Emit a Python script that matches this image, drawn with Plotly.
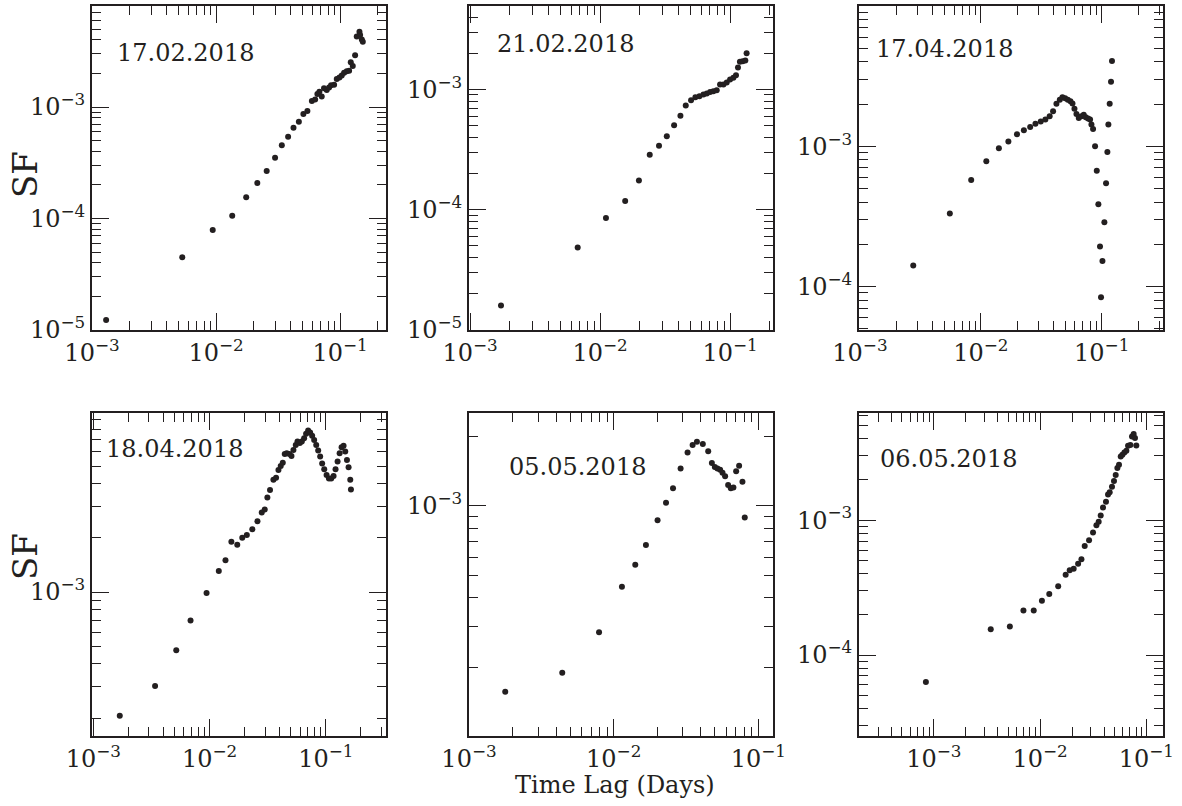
import plotly.graph_objects as go
import math

INK = "#231f20"

# ---------------- data (time lag in days, SF) ----------------
labels = ["17.02.2018", "21.02.2018", "17.04.2018", "18.04.2018", "05.05.2018", "06.05.2018"]

x1 = [1.30e-3, 5.34e-3, 9.4e-3, 1.35e-2, 1.75e-2, 2.15e-2, 2.56e-2, 2.99e-2, 3.39e-2, 3.81e-2,
      4.21e-2, 4.65e-2, 5.06e-2, 5.45e-2, 0.0592, 0.0629, 0.0656, 0.0681, 0.0711, 0.0742,
      0.0780, 0.0815, 0.0846, 0.0895, 0.0940, 0.0988, 0.1031, 0.1077, 0.1132, 0.1182,
      0.1219, 0.1265, 0.1321, 0.1362, 0.1432, 0.1450, 0.1496, 0.1524]
y1 = [1.23e-5, 4.49e-5, 7.9e-5, 1.06e-4, 1.55e-4, 2.08e-4, 2.67e-4, 3.51e-4, 4.53e-4, 5.42e-4,
      6.52e-4, 7.38e-4, 8.65e-4, 9.2e-4, 1.13e-3, 1.17e-3, 1.31e-3, 1.37e-3, 1.24e-3, 1.47e-3,
      1.42e-3, 1.50e-3, 1.57e-3, 1.58e-3, 1.78e-3, 1.84e-3, 1.92e-3, 2.03e-3, 2.09e-3, 2.12e-3,
      2.52e-3, 2.33e-3, 2.92e-3, 4.28e-3, 4.74e-3, 4.43e-3, 4.04e-3, 3.85e-3]

x2 = [1.73e-3, 6.73e-3, 1.11e-2, 1.56e-2, 1.99e-2, 2.41e-2, 2.84e-2, 3.26e-2, 3.71e-2, 4.15e-2,
      4.56e-2, 5.01e-2, 5.41e-2, 5.81e-2, 6.24e-2, 6.62e-2, 7.02e-2, 7.44e-2, 7.89e-2, 8.37e-2,
      8.89e-2, 9.42e-2, 0.100, 0.106, 0.111, 0.115, 0.119, 0.125, 0.131, 0.134]
y2 = [1.60e-5, 4.85e-5, 8.53e-5, 1.18e-4, 1.75e-4, 2.87e-4, 3.41e-4, 4.08e-4, 5.04e-4, 6.04e-4,
      7.36e-4, 8.15e-4, 8.63e-4, 8.80e-4, 9.08e-4, 9.26e-4, 9.51e-4, 9.68e-4, 9.87e-4, 1.10e-3,
      1.10e-3, 1.14e-3, 1.21e-3, 1.25e-3, 1.31e-3, 1.52e-3, 1.70e-3, 1.72e-3, 1.74e-3, 2.00e-3]

x3 = [2.76e-3, 5.54e-3, 8.32e-3, 1.11e-2, 1.41e-2, 1.69e-2, 1.99e-2, 2.27e-2, 2.56e-2, 2.83e-2,
      3.13e-2, 3.42e-2, 3.71e-2, 3.96e-2, 4.22e-2, 4.50e-2, 4.73e-2, 4.98e-2, 5.24e-2, 5.51e-2,
      5.73e-2, 5.95e-2, 6.18e-2, 6.46e-2, 6.79e-2, 7.10e-2, 7.38e-2, 7.71e-2, 8.01e-2, 8.22e-2,
      8.48e-2, 8.81e-2, 9.10e-2, 9.38e-2, 9.68e-2, 9.87e-2, 0.1014, 0.1052, 0.1086, 0.1114,
      0.1135, 0.1164, 0.1194, 0.1216]
y3 = [1.41e-4, 3.32e-4, 5.75e-4, 7.81e-4, 9.68e-4, 1.08e-3, 1.22e-3, 1.30e-3, 1.37e-3, 1.45e-3,
      1.50e-3, 1.55e-3, 1.64e-3, 1.78e-3, 2.01e-3, 2.15e-3, 2.24e-3, 2.20e-3, 2.15e-3, 2.09e-3,
      2.02e-3, 1.85e-3, 1.70e-3, 1.59e-3, 1.64e-3, 1.68e-3, 1.61e-3, 1.58e-3, 1.55e-3, 1.43e-3,
      1.33e-3, 1.00e-3, 6.70e-4, 3.86e-4, 1.93e-4, 8.39e-5, 1.52e-4, 2.87e-4, 5.44e-4, 9.11e-4,
      1.43e-3, 2.01e-3, 2.88e-3, 4.05e-3]

x4 = [1.69e-3, 3.40e-3, 5.17e-3, 6.86e-3, 9.42e-3, 1.20e-2, 1.37e-2, 1.54e-2, 1.73e-2, 1.91e-2,
      2.09e-2, 2.33e-2, 2.58e-2, 2.81e-2, 2.98e-2, 3.14e-2, 3.31e-2, 3.54e-2, 3.73e-2, 3.91e-2,
      4.09e-2, 4.26e-2, 4.43e-2, 4.61e-2, 4.86e-2, 5.06e-2, 5.26e-2, 5.51e-2, 5.70e-2, 5.97e-2,
      6.21e-2, 6.50e-2, 6.76e-2, 7.04e-2, 7.32e-2, 7.62e-2, 7.93e-2, 8.26e-2, 8.59e-2, 8.93e-2,
      9.29e-2, 9.68e-2, 0.1014, 0.1062, 0.1112, 0.1165, 0.1211, 0.1261, 0.1313, 0.1365,
      0.1420, 0.1468, 0.1518, 0.1568, 0.1621, 0.1643]
y4 = [2.06e-4, 3.01e-4, 4.76e-4, 6.95e-4, 9.87e-4, 1.31e-3, 1.50e-3, 1.90e-3, 1.83e-3, 2.00e-3,
      2.07e-3, 2.23e-3, 2.47e-3, 2.76e-3, 2.87e-3, 3.35e-3, 3.68e-3, 4.19e-3, 4.31e-3, 4.75e-3,
      5.00e-3, 5.22e-3, 5.83e-3, 5.89e-3, 5.83e-3, 5.69e-3, 6.14e-3, 6.55e-3, 6.84e-3, 6.70e-3,
      6.84e-3, 7.13e-3, 7.55e-3, 7.87e-3, 7.67e-3, 7.35e-3, 6.98e-3, 6.55e-3, 6.10e-3, 5.64e-3,
      5.17e-3, 4.80e-3, 4.46e-3, 4.27e-3, 4.27e-3, 4.40e-3, 4.80e-3, 5.30e-3, 5.89e-3, 6.35e-3,
      6.47e-3, 6.01e-3, 5.40e-3, 4.92e-3, 4.19e-3, 3.71e-3]

x5 = [1.78e-3, 4.41e-3, 7.92e-3, 1.14e-2, 1.41e-2, 1.67e-2, 2.01e-2, 2.30e-2, 2.57e-2, 2.90e-2,
      3.24e-2, 3.51e-2, 3.76e-2, 4.13e-2, 4.50e-2, 4.77e-2, 5.00e-2, 5.21e-2, 5.44e-2, 5.65e-2,
      5.89e-2, 6.18e-2, 6.45e-2, 6.72e-2, 7.02e-2, 7.36e-2, 7.76e-2, 8.05e-2]
y5 = [1.57e-4, 1.90e-4, 2.84e-4, 4.47e-4, 5.56e-4, 6.77e-4, 8.66e-4, 1.03e-3, 1.19e-3, 1.45e-3,
      1.70e-3, 1.83e-3, 1.89e-3, 1.85e-3, 1.72e-3, 1.53e-3, 1.47e-3, 1.45e-3, 1.43e-3, 1.39e-3,
      1.34e-3, 1.23e-3, 1.19e-3, 1.20e-3, 1.41e-3, 1.49e-3, 1.27e-3, 8.90e-4]

x6 = [8.41e-4, 3.43e-3, 5.19e-3, 6.97e-3, 8.71e-3, 1.04e-2, 1.22e-2, 1.48e-2, 1.74e-2, 1.90e-2,
      2.07e-2, 2.28e-2, 2.45e-2, 2.63e-2, 2.89e-2, 3.15e-2, 3.39e-2, 3.56e-2, 3.72e-2, 3.91e-2,
      4.17e-2, 4.36e-2, 4.52e-2, 4.75e-2, 4.96e-2, 5.15e-2, 5.34e-2, 5.53e-2, 5.74e-2, 5.95e-2,
      6.21e-2, 6.49e-2, 6.73e-2, 7.08e-2, 7.33e-2, 7.60e-2, 7.82e-2, 8.05e-2]
y6 = [6.32e-5, 1.55e-4, 1.63e-4, 2.14e-4, 2.14e-4, 2.53e-4, 2.84e-4, 3.23e-4, 3.94e-4, 4.25e-4,
      4.37e-4, 4.75e-4, 5.13e-4, 6.44e-4, 7.10e-4, 8.09e-4, 9.18e-4, 9.72e-4, 1.08e-3, 1.24e-3,
      1.37e-3, 1.55e-3, 1.61e-3, 1.77e-3, 1.95e-3, 2.16e-3, 2.43e-3, 2.57e-3, 2.96e-3, 3.05e-3,
      3.17e-3, 3.27e-3, 3.56e-3, 3.61e-3, 4.17e-3, 4.35e-3, 4.06e-3, 3.57e-3]

xs = [x1, x2, x3, x4, x5, x6]
ys = [y1, y2, y3, y4, y5, y6]

# labelled decades
x_labels = [[1e-3, 1e-2, 1e-1]] * 6
y_labels = [[1e-5, 1e-4, 1e-3], [1e-5, 1e-4, 1e-3], [1e-4, 1e-3], [1e-3], [1e-3], [1e-4, 1e-3]]

# ---------------- layout geometry ----------------
W, H = 1182, 806
x_ranges = [[-3.0, -0.63], [-3.008, -0.67], [-3.008, -0.493],
            [-3.011, -0.483], [-3.0, -0.899], [-3.705, -0.843]]
y_ranges = [[-5.0, -2.094], [-5.0, -2.306], [-4.31, -2.0],
            [-3.798, -2.007], [-3.995, -2.599], [-4.600, -2.206]]
col_px = [(92, 386), (469, 773), (859, 1163)]
row_px = [(6, 330), (413, 736)]
label_pos = [(185, 53), (565, 44), (944, 49), (174, 449), (577, 467), (949, 459)]


def sup(v):
    e = int(round(math.log10(v)))
    return "10<sup>\u2212%d</sup>" % (-e)


def minor_vals(r):
    lo, hi = math.floor(r[0]), math.ceil(r[1])
    return [m * 10.0 ** k for k in range(lo, hi) for m in range(2, 10)
            if r[0] <= math.log10(m) + k <= r[1]]


def major_vals(r):
    return [10.0 ** k for k in range(math.ceil(r[0] - 1e-9), math.floor(r[1] + 1e-9) + 1)]


TICKFONT = dict(family="DejaVu Serif", size=24, color=INK)

fig = go.Figure()
layout = dict(template="none", width=W, height=H, margin=dict(l=0, r=0, t=0, b=0, pad=0),
              autosize=False, paper_bgcolor="white", plot_bgcolor="white", showlegend=False)
annotations = []

for i in range(6):
    r, c = divmod(i, 3)
    sfx = "" if i == 0 else str(i + 1)
    fig.add_trace(go.Scatter(x=xs[i], y=ys[i], mode="markers",
                             marker=dict(size=6, color=INK, line=dict(width=0)),
                             xaxis="x" + sfx, yaxis="y" + sfx, hoverinfo="x+y"))
    x0, x1p = col_px[c]
    t0, b0 = row_px[r]

    def axis_common(rng, labs, dom, anchor):
        maj = major_vals(rng)
        txt = [sup(v) if any(abs(v / l - 1) < 1e-6 for l in labs) else " " for v in maj]
        return dict(type="log", range=rng, domain=dom, anchor=anchor, automargin=False,
                    showline=True, linewidth=2, linecolor=INK, mirror="allticks",
                    showgrid=False, zeroline=False,
                    ticks="inside", ticklen=17, tickwidth=1.3, tickcolor=INK,
                    tickmode="array", tickvals=maj, ticktext=txt,
                    tickfont=TICKFONT,
                    minor=dict(tickmode="array", tickvals=minor_vals(rng), ticks="inside",
                               ticklen=9, tickwidth=1.3, tickcolor=INK, showgrid=False))

    layout["xaxis" + sfx] = axis_common(x_ranges[i], x_labels[i], [x0 / W, x1p / W], "y" + sfx)
    layout["yaxis" + sfx] = axis_common(y_ranges[i], y_labels[i], [1 - b0 / H, 1 - t0 / H], "x" + sfx)

    lx, ly = label_pos[i]
    annotations.append(dict(text=labels[i], x=lx / W, y=1 - ly / H, xref="paper", yref="paper",
                            showarrow=False, xanchor="center", yanchor="middle",
                            font=dict(family="DejaVu Serif", size=24, color=INK)))

for yc in (175, 557):
    annotations.append(dict(text="SF", x=25 / W, y=1 - yc / H, xref="paper", yref="paper",
                            showarrow=False, textangle=-90, xanchor="center", yanchor="middle",
                            font=dict(family="DejaVu Serif", size=34, color=INK)))

annotations.append(dict(text="Time Lag (Days)", x=615 / W, y=1 - 785 / H, xref="paper", yref="paper",
                        showarrow=False, xanchor="center", yanchor="middle",
                        font=dict(family="DejaVu Serif", size=24, color=INK)))

layout["annotations"] = annotations
fig.update_layout(**layout)
fig.write_html("out.html")
